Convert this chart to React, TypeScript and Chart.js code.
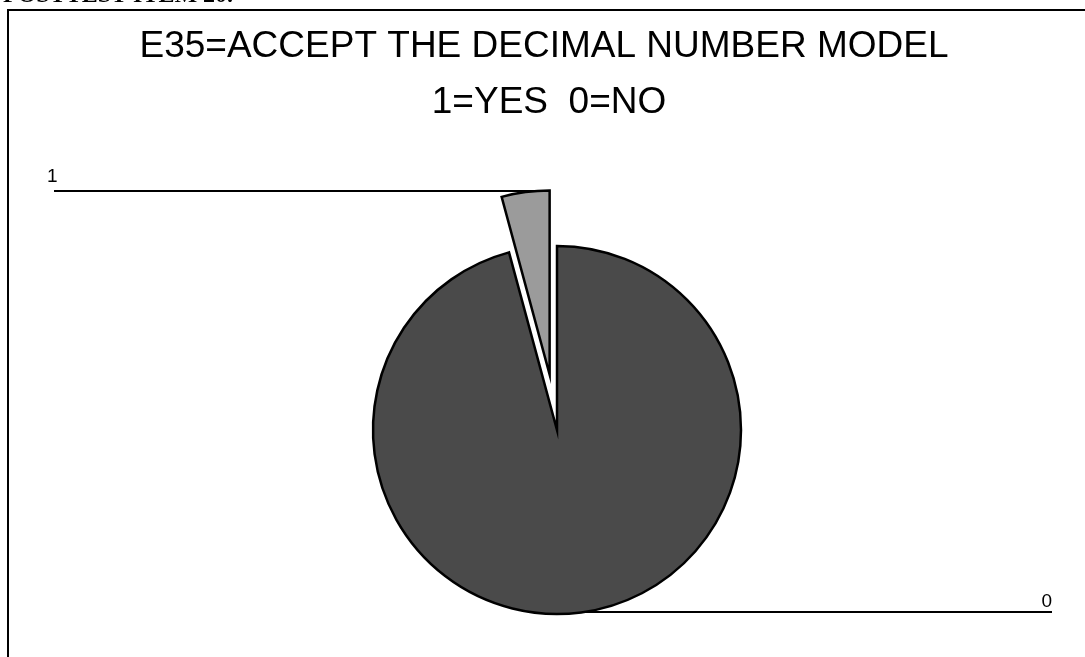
import { useEffect, useRef } from "react";
import { Chart, registerables } from "chart.js";

Chart.register(...registerables);

// Responses to E35 (share of answers, %)
const categories = ["0", "1"];
const shares = [95.8, 4.2];
const sliceColors = ["#4a4a4a", "#9b9b9b"];
const explodeBy = [0, 56];

const titleLines = ["E35=ACCEPT THE DECIMAL NUMBER MODEL", "1=YES  0=NO"];
const heading = "POSTTEST ITEM 20.";

const W = 1085;
const H = 657;

// page frame, clipped heading and the two-line title
const framePlugin = {
  id: "frameAndTitle",
  beforeDraw(chart: any) {
    const ctx = chart.ctx as CanvasRenderingContext2D;
    ctx.save();
    ctx.fillStyle = "#ffffff";
    ctx.fillRect(0, 0, W, H);

    ctx.fillStyle = "#000000";
    ctx.textBaseline = "alphabetic";
    ctx.font = "bold 24px 'Liberation Serif'";
    ctx.textAlign = "left";
    ctx.fillText(heading, 3, 2);

    ctx.strokeStyle = "#000000";
    ctx.lineWidth = 2;
    ctx.beginPath();
    ctx.moveTo(8, H);
    ctx.lineTo(8, 10);
    ctx.lineTo(W, 10);
    ctx.stroke();

    ctx.font = "37px 'Liberation Sans'";
    ctx.textAlign = "center";
    ctx.fillText(titleLines[0], 544, 57);
    ctx.fillText(titleLines[1], 549, 113);
    ctx.restore();
  },
};

// bisector point on the outer edge of a slice, including its explode shift
function sliceAnchor(arc: any, i: number) {
  const p = arc.getProps(["x", "y", "startAngle", "endAngle", "outerRadius"], true);
  const mid = (p.startAngle + p.endAngle) / 2;
  const r = p.outerRadius + explodeBy[i];
  return { x: p.x + Math.cos(mid) * r, y: p.y + Math.sin(mid) * r, cx: p.x };
}

// leader lines under the slices, labels above them
const leaderPlugin = {
  id: "leaders",
  beforeDatasetsDraw(chart: any) {
    const ctx = chart.ctx as CanvasRenderingContext2D;
    const meta = chart.getDatasetMeta(0);
    ctx.save();
    ctx.strokeStyle = "#000000";
    ctx.lineWidth = 2;
    ctx.fillStyle = "#000000";
    ctx.font = "19px 'Liberation Sans'";
    ctx.textBaseline = "alphabetic";
    meta.data.forEach((arc: any, i: number) => {
      const a = sliceAnchor(arc, i);
      const left = a.x < a.cx;
      const y = Math.round(left ? a.y - 1 : a.y);
      const endX = left ? 54 : 1052;
      ctx.beginPath();
      ctx.moveTo(left ? a.x + 20 : a.x - 20, y);
      ctx.lineTo(endX, y);
      ctx.stroke();
      if (left) {
        ctx.textAlign = "left";
        ctx.fillText(categories[i], 47, y - 9);
      } else {
        ctx.textAlign = "right";
        ctx.fillText(categories[i], 1052, y - 5);
      }
    });
    ctx.restore();
  },
};

// draws each slice pushed out along its bisector
const explodePlugin = {
  id: "explodedSlices",
  beforeDatasetDraw(chart: any, args: any) {
    const ctx = chart.ctx as CanvasRenderingContext2D;
    args.meta.data.forEach((arc: any, i: number) => {
      const p = arc.getProps(["startAngle", "endAngle"], true);
      const mid = (p.startAngle + p.endAngle) / 2;
      ctx.save();
      ctx.translate(Math.cos(mid) * explodeBy[i], Math.sin(mid) * explodeBy[i]);
      arc.draw(ctx);
      ctx.restore();
    });
    return false;
  },
};

export default function App() {
  const canvasRef = useRef<HTMLCanvasElement | null>(null);

  useEffect(() => {
    if (!canvasRef.current) return;
    const chart = new Chart(canvasRef.current, {
      type: "pie",
      data: {
        labels: categories,
        datasets: [
          {
            data: shares,
            backgroundColor: sliceColors,
            borderColor: "#000000",
            borderWidth: 2.5,
            borderJoinStyle: "miter",
            radius: 184,
          } as any,
        ],
      },
      options: {
        responsive: false,
        animation: false,
        layout: { padding: { left: 357, right: 328, top: 230, bottom: 27 } },
        plugins: {
          legend: { display: false },
          title: { display: false },
          tooltip: { enabled: false },
        },
      },
      plugins: [framePlugin, leaderPlugin, explodePlugin],
    });
    return () => chart.destroy();
  }, []);

  return (
    <div style={{ position: "fixed", left: 0, top: 0, width: W, height: H, background: "#fff" }}>
      <canvas ref={canvasRef} width={W} height={H} style={{ display: "block" }} />
    </div>
  );
}
